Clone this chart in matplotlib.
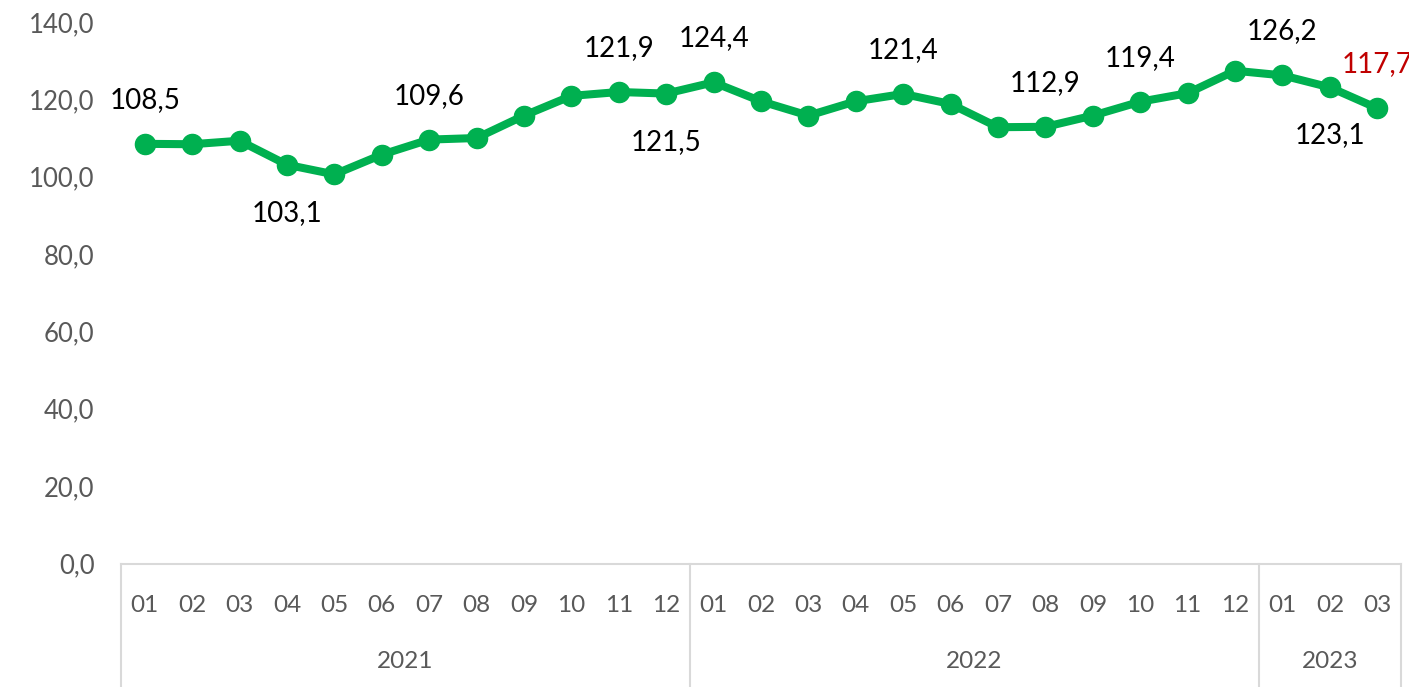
import matplotlib
matplotlib.use("Agg")
import matplotlib.pyplot as plt
import matplotlib.transforms as mtransforms

# ---- data ----
years = ["2021", "2022", "2023"]
months_per_year = [12, 12, 3]
month_labels = ["01", "02", "03", "04", "05", "06", "07", "08", "09", "10", "11", "12",
                "01", "02", "03", "04", "05", "06", "07", "08", "09", "10", "11", "12",
                "01", "02", "03"]
values = [108.5, 108.4, 109.3, 103.1, 100.6, 105.7, 109.6, 110.0, 115.8, 120.9, 121.9, 121.5,
          124.4, 119.5, 115.8, 119.5, 121.4, 118.8, 112.8, 112.9, 115.8, 119.4, 121.6, 127.4,
          126.2, 123.1, 117.7]
# labelled points: index -> (text, position)
label_idx = [0, 3, 6, 10, 11, 12, 16, 19, 21, 24, 25, 26]
label_pos = ["above", "below", "above", "above", "below", "above", "above", "above", "above",
             "above", "below", "above"]
yticks = [0, 20, 40, 60, 80, 100, 120, 140]

plt.rcParams['font.family'] = ['Lato', 'DejaVu Sans']

W, H = 1409, 687
fig = plt.figure(figsize=(W / 100, H / 100), dpi=100)
left_px, right_px, bottom_px, top_px = 121, 1401, 563.5, 22
ax = fig.add_axes([left_px / W, (H - bottom_px) / H, (right_px - left_px) / W, (bottom_px - top_px) / H])

green = "#00B050"
gray = "#595959"
x = list(range(len(values)))
ax.plot(x, values, color=green, lw=5.8, marker="o", ms=14.5, solid_joinstyle="round", zorder=3,
        clip_on=False)

ax.set_xlim(-0.5, len(values) - 0.5)
ax.set_ylim(0, 140)
ax.set_yticks(yticks)
ax.set_yticklabels([f"{v:.1f}".replace(".", ",") for v in yticks], color=gray, fontsize=18.5)
ax.tick_params(axis="y", length=0, pad=19)
ax.set_xticks([])
for s in ["top", "right", "left"]:
    ax.spines[s].set_visible(False)
ax.spines["bottom"].set_color("#D9D9D9")
ax.spines["bottom"].set_linewidth(1.5)

# data labels
for i, pos in zip(label_idx, label_pos):
    txt = f"{values[i]:.1f}".replace(".", ",")
    color = "#C00000" if i == len(values) - 1 else "black"
    dy = 44 if pos == "above" else -48
    ax.annotate(txt, (x[i], values[i]), xytext=(0, dy * 0.72), textcoords="offset points",
                ha="center", va="center", fontsize=20, color=color, annotation_clip=False)

# two-level category axis
trans = mtransforms.blended_transform_factory(ax.transData, ax.transAxes)
ax_h = bottom_px - top_px
for i, m in enumerate(month_labels):
    ax.text(i, -41.5 / ax_h, m, transform=trans, ha="center", va="center", fontsize=17.5, color=gray)
start = -0.5
bounds = [start]
for y, n in zip(years, months_per_year):
    mid = start + n / 2
    ax.text(mid, -98.5 / ax_h, y, transform=trans, ha="center", va="center", fontsize=17.5, color=gray)
    start += n
    bounds.append(start)
for b in bounds:
    ax.plot([b, b], [0, -0.3], transform=trans, color="#D9D9D9", lw=1.5, clip_on=False)

fig.savefig("out.png", dpi=100)
